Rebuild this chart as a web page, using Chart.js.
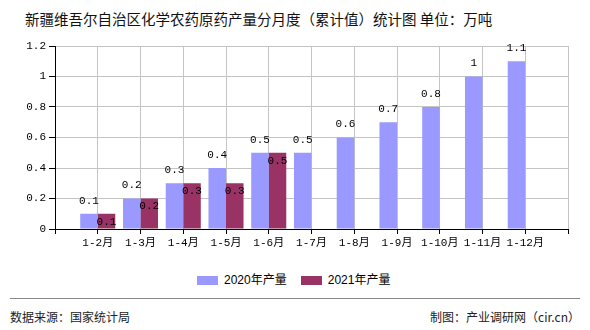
<!DOCTYPE html>
<html>
<head>
<meta charset="utf-8">
<script src="https://cdn.jsdelivr.net/npm/chart.js@4"></script>
<style>
  body { margin: 0; width: 590px; height: 330px; background: #fff; position: relative; overflow: hidden; font-family: 'Noto Sans CJK SC', sans-serif; }
  #titulo { position: absolute; left: 25px; top: 8px; font-size: 14.5px; color: #111; white-space: nowrap; }
  #grafico-box { position: absolute; left: 0; top: 0; width: 590px; height: 260px; }
  #legenda { position: absolute; top: 270px; left: 197px; font-size: 12px; font-family: 'Liberation Sans', 'Noto Sans CJK SC', sans-serif; white-space: nowrap; }
  #legenda span.caixa { display: inline-block; width: 21px; height: 9px; vertical-align: middle; margin-right: 6px; }
  #legenda span.item { margin-right: 14px; }
  #linha { position: absolute; left: 10px; right: 10px; top: 298px; border-top: 1px solid #888; }
  .rodape { position: absolute; top: 308px; font-size: 12px; color: #222; white-space: nowrap; }
</style>
</head>
<body>
<div id="titulo">新疆维吾尔自治区化学农药原药产量分月度（累计值）统计图 单位：万吨</div>
<div id="grafico-box"><canvas id="meu-grafico" width="590" height="260"></canvas></div>
<div id="legenda"></div>
<div id="linha"></div>
<div class="rodape" style="left:10px">数据来源：国家统计局</div>
<div class="rodape" style="right:10px">制图：产业调研网（cir.cn）</div>
<script>
// categorias (com posicoes vazias nas pontas, como no original)
const meses = ['', '1-2月', '1-3月', '1-4月', '1-5月', '1-6月', '1-7月', '1-8月', '1-9月', '1-10月', '1-11月', '1-12月', '']
const producao2020 = [null, 0.1, 0.2, 0.3, 0.4, 0.5, 0.5, 0.6, 0.7, 0.8, 1, 1.1, null]
const producao2021 = [null, 0.1, 0.2, 0.3, 0.3, 0.5, null, null, null, null, null, null, null]
const ticksY = [0, 0.2, 0.4, 0.6, 0.8, 1, 1.2]
const nomesSeries = ['2020年产量', '2021年产量']
const cores = ['#9999ff', '#993366']

const fonteMono = "'Liberation Mono', 'Noto Sans CJK SC', monospace"
const corGrade = '#c4c4c4'

// legenda em html
const legenda = document.getElementById('legenda')
nomesSeries.forEach((n, i) => {
	legenda.innerHTML += `<span class="item"><span class="caixa" style="background:${cores[i]}"></span>${n}</span>`
})

// rotulos de valor em cima das barras
const rotulos = {
	id: 'rotulos',
	afterDatasetsDraw(chart) {
		const ctx = chart.ctx
		ctx.save()
		ctx.font = '11px ' + fonteMono
		ctx.fillStyle = '#000'
		ctx.textAlign = 'center'
		ctx.textBaseline = 'middle'
		chart.data.datasets.forEach((ds, i) => {
			chart.getDatasetMeta(i).data.forEach((bar, j) => {
				const v = ds.data[j]
				if (v == null) return
				const y = i === 0 ? bar.y - 13 : bar.y + 8
				ctx.fillText(String(v), bar.x, y)
			})
		})
		ctx.restore()
	}
}

const chart = new Chart(document.getElementById('meu-grafico'), {
	type: 'bar',
	data: {
		labels: meses,
		datasets: [
			{ label: nomesSeries[0], data: producao2020, backgroundColor: cores[0] },
			{ label: nomesSeries[1], data: producao2021, backgroundColor: cores[1] }
		]
	},
	options: {
		responsive: false,
		animation: false,
		categoryPercentage: 0.82,
		barPercentage: 1.0,
		layout: { padding: { top: 46, right: 22, left: 0, bottom: 0 } },
		plugins: { legend: { display: false }, tooltip: { enabled: false } },
		scales: {
			x: {
				offset: false,
				grid: { offset: false, color: corGrade, tickColor: '#000', tickLength: 5 },
				border: { color: '#000' },
				ticks: { color: '#000', font: { size: 11, family: fonteMono }, padding: 2, maxRotation: 0, autoSkip: false },
				afterFit: s => { s.height = 31 }
			},
			y: {
				min: 0, max: 1.2,
				grid: { color: corGrade, tickColor: '#000', tickLength: 6 },
				border: { color: '#000' },
				ticks: { color: '#000', font: { size: 11, family: fonteMono }, padding: 3,
					callback: v => String(+v.toFixed(1)) },
				afterBuildTicks: s => { s.ticks = ticksY.map(v => ({ value: v })) },
				afterFit: s => { s.width = 55 }
			}
		}
	},
	plugins: [rotulos]
})
chart.update()
</script>
</body>
</html>
